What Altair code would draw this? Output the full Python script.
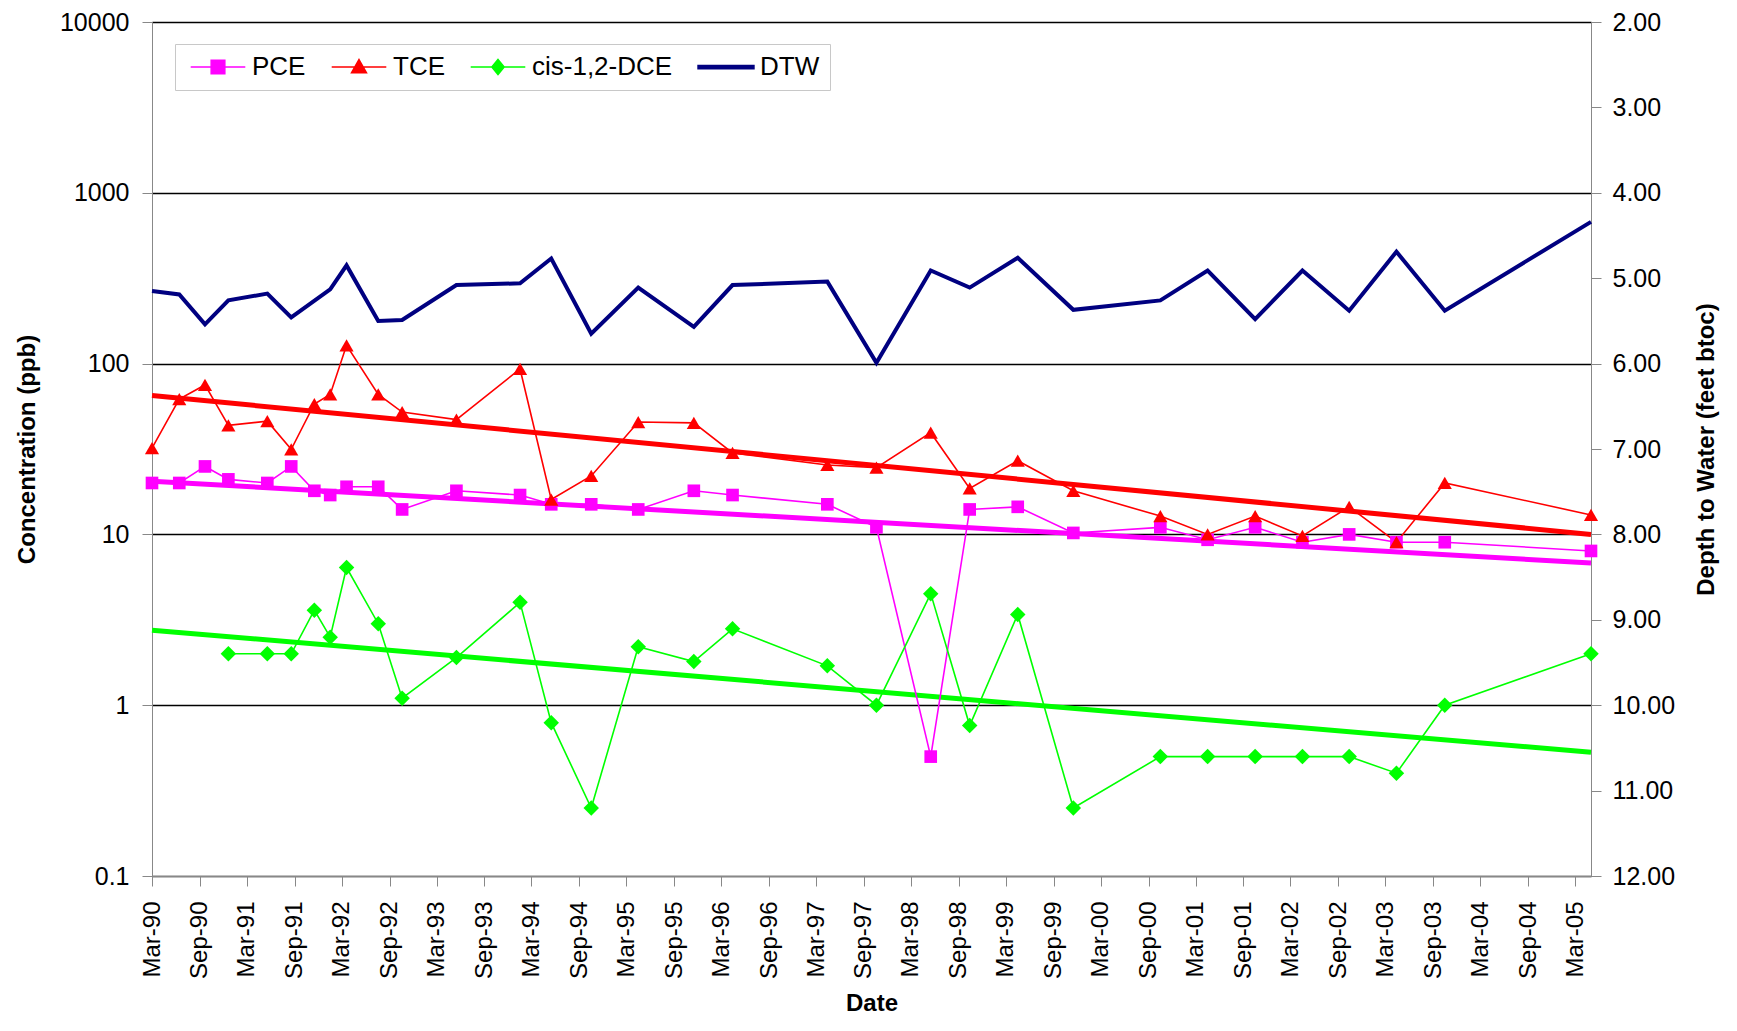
import altair as alt
import pandas as pd

# ---- data ----
dates = ["1990-03-15", "1990-06-28", "1990-10-05", "1991-01-03", "1991-06-02", "1991-09-02",
         "1991-11-30", "1992-01-30", "1992-04-02", "1992-08-02", "1992-11-02", "1993-05-30",
         "1994-01-30", "1994-05-30", "1994-10-31", "1995-04-30", "1995-11-30", "1996-04-27",
         "1997-04-27", "1997-11-02", "1998-05-30", "1998-10-27", "1999-04-30", "1999-11-30",
         "2000-10-30", "2001-04-30", "2001-10-30", "2002-04-30", "2002-10-27", "2003-04-27",
         "2003-10-30", "2005-05-15"]
pce = [20, 20, 25, 21, 20, 25, 18, 17, 19, 19, 14, 18, 17, 15, 15, 14, 18, 17, 15, 11, 0.5,
       14, 14.5, 10.2, 11, 9.3, 11, 9, 10, 9, 9, 8]
tce = [32, 62, 75, 43.5, 46, 31.5, 58, 66, 128, 66, 52, 47, 93, 16, 22, 45.5, 45, 30, 25.5,
       24.6, 39.4, 18.6, 27, 18, 12.8, 10, 12.8, 9.8, 14.5, 9, 20, 13]
dce = [None, None, None, 2, 2, 2, 3.6, 2.5, 6.4, 3.0, 1.1, 1.9, 4.0, 0.79, 0.25, 2.2, 1.8,
       2.8, 1.7, 1.0, 4.5, 0.76, 3.4, 0.25, 0.5, 0.5, 0.5, 0.5, 0.5, 0.4, 1.0, 2.0]
dtw = [5.15, 5.19, 5.54, 5.26, 5.18, 5.46, None, 5.13, 4.85, 5.50, 5.49, 5.08, 5.06, 4.77,
       5.65, 5.11, 5.57, 5.08, 5.04, 5.99, 4.91, 5.11, 4.76, 5.37, 5.26, 4.91, 5.48, 4.91,
       5.38, 4.69, 5.38, 4.34]

trend_dates = ["1990-03-15", "2005-05-15"]
pce_trend = [20.5, 6.8]
tce_trend = [65, 10]
dce_trend = [2.75, 0.53]

series_names = ["PCE", "TCE", "cis-1,2-DCE", "DTW"]
series_colors = ["#FF00FF", "#FF0000", "#00FF00", "#000080"]
conc_ticks = [0.1, 1, 10, 100, 1000, 10000]
dtw_ticks = [2, 3, 4, 5, 6, 7, 8, 9, 10, 11, 12]

# ---- tables ----
rows = []
for name, vals in [("PCE", pce), ("TCE", tce), ("cis-1,2-DCE", dce)]:
    for d, v in zip(dates, vals):
        if v is not None:
            rows.append({"date": d, "series": name, "value": v})
conc = pd.DataFrame(rows)

trows = []
for name, vals in [("PCE", pce_trend), ("TCE", tce_trend), ("cis-1,2-DCE", dce_trend)]:
    for d, v in zip(trend_dates, vals):
        trows.append({"date": d, "series": name, "value": v})
trend = pd.DataFrame(trows)

dtw_df = pd.DataFrame([{"date": d, "series": "DTW", "dtw": v}
                       for d, v in zip(dates, dtw) if v is not None])

# ---- scales / axes ----
FONT = "Liberation Sans"
tick_dates = []
for k in range(31):
    m = 3 + 6 * k
    y = 1990 + (m - 1) // 12
    mo = (m - 1) % 12 + 1
    tick_dates.append(alt.DateTime(year=y, month=mo, date=15))

xscale = alt.Scale(domain=[alt.DateTime(year=1990, month=3, date=15),
                           alt.DateTime(year=2005, month=5, date=15)], nice=False)
xaxis = alt.Axis(values=tick_dates, format="%b-%y", labelAngle=270, labelFontSize=24,
                 labelPadding=15, tickSize=10, grid=False, title="Date",
                 titleFontSize=24, titleFontWeight="bold", titlePadding=13,
                 labelOverlap=False)
X = alt.X("date:T", scale=xscale, axis=xaxis)

yscale = alt.Scale(type="log", domain=[0.1, 10000], nice=False)
yaxis = alt.Axis(values=conc_ticks,
                 labelExpr="datum.value < 1 ? '0.1' : format(datum.value, 'd')",
                 grid=True, gridColor="#000000", gridWidth=1.3, tickSize=10,
                 labelPadding=13, labelFontSize=25, title="Concentration (ppb)",
                 titleFontSize=24, titleFontWeight="bold", titlePadding=20)
Y = alt.Y("value:Q", scale=yscale, axis=yaxis)

color_scale = alt.Scale(domain=series_names, range=series_colors)

shape_expr = ("datum.value === 'PCE' ? 'M-4.2,0H4.2M-1.05,-1.05H1.05V1.05H-1.05Z' : "
              "datum.value === 'TCE' ? 'M-4.2,0H4.2M0,-1.15L1.15,0.9H-1.15Z' : "
              "datum.value === 'cis-1,2-DCE' ? 'M-4.2,0H4.2M0,-1.15L0.95,0L0,1.15L-0.95,0Z' : "
              "'M-4.3,-0.25H4.3V0.25H-4.3Z'")
col_expr = ("datum.value === 'PCE' ? '#FF00FF' : datum.value === 'TCE' ? '#FF0000' : "
            "datum.value === 'cis-1,2-DCE' ? '#00FF00' : '#000080'")

legend = alt.Legend(
    title=None, orient="none", legendX=23, legendY=22, direction="horizontal", columns=4,
    labelFont=FONT, labelFontSize=26, labelColor="#000000", labelLimit=400,
    symbolSize=169, symbolStrokeWidth=1.5, symbolOffset=20, labelOffset=21,
    columnPadding=20, padding=10, strokeColor="#C8C8C8", fillColor="#FFFFFF",
    symbolType=alt.ExprRef(expr=shape_expr),
    symbolFillColor=alt.ExprRef(expr=col_expr),
    symbolStrokeColor=alt.ExprRef(expr=col_expr),
    symbolOpacity=1,
)

# first layer carries the legend (explicit legends of later layers are off)
trend_layer = alt.Chart(trend).mark_line(strokeWidth=5).encode(
    x=X, y=Y, color=alt.Color("series:N", scale=color_scale, legend=legend),
    detail="series:N")

line_layer = alt.Chart(conc).mark_line(strokeWidth=1.6).encode(
    x=X, y=Y, color=alt.Color("series:N", scale=color_scale, legend=None))

point_layer = alt.Chart(conc).mark_point(filled=True, opacity=1).encode(
    x=X, y=Y,
    color=alt.Color("series:N", scale=color_scale, legend=None),
    shape=alt.Shape("series:N", scale=alt.Scale(domain=["PCE", "TCE", "cis-1,2-DCE"],
                                                range=["square", "triangle-up", "diamond"]),
                    legend=None),
    size=alt.Size("series:N", scale=alt.Scale(domain=["PCE", "TCE", "cis-1,2-DCE"],
                                              range=[160, 240, 190]),
                  legend=None))

conc_layers = alt.layer(trend_layer, line_layer, point_layer)

dtw_layer = alt.Chart(dtw_df).mark_line(strokeWidth=4).encode(
    x=X,
    y=alt.Y("dtw:Q", scale=alt.Scale(domain=[2, 12], reverse=True, nice=False, zero=False),
            axis=alt.Axis(orient="right", values=dtw_ticks, format=".2f", grid=False,
                          tickSize=10, labelPadding=11, labelFontSize=25,
                          title="Depth to Water (feet btoc)", titleAngle=270,
                          titleBaseline="top", titleFontSize=24, titleFontWeight="bold",
                          titlePadding=20)),
    color=alt.Color("series:N", scale=color_scale, legend=None))

chart = alt.layer(conc_layers, dtw_layer).resolve_scale(y="independent").properties(
    width=1439, height=854, autosize="none",
    padding={"left": 144, "top": 14, "right": 130, "bottom": 140},
).configure_view(stroke=None).configure_axis(
    labelFont=FONT, titleFont=FONT, labelColor="#000000", titleColor="#000000",
    domainColor="#000000", domainWidth=1.5, tickColor="#000000", tickWidth=1.5,
).configure(background="#FFFFFF")

chart.save("out.html", embed_options={"renderer": "svg", "actions": False})
